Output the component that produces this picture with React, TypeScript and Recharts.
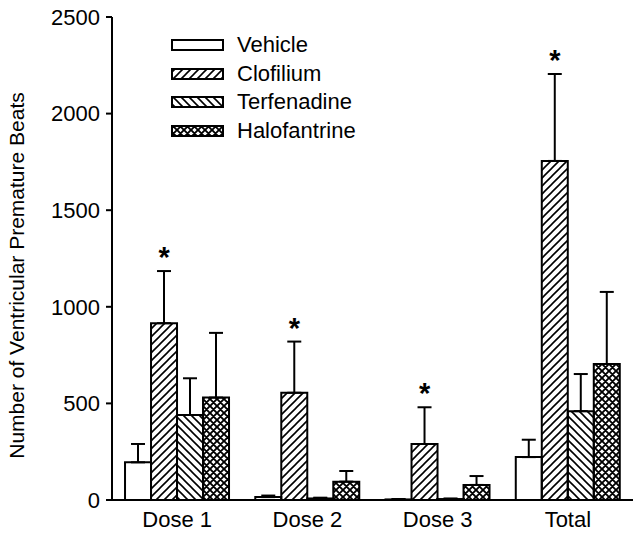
import { Bar, BarChart, ErrorBar, LabelList, XAxis, YAxis } from "recharts";

document.body.style.margin = "0";

const DOSES = ["Dose 1", "Dose 2", "Dose 3", "Total"];
const VEHICLE = [195, 15, 3, 222];
const VEHICLE_ERR = [95, 8, 2, 90];
const CLOFILIUM = [915, 555, 290, 1755];
const CLOFILIUM_ERR = [270, 265, 190, 450];
const TERFENADINE = [440, 8, 5, 460];
const TERFENADINE_ERR = [190, 4, 3, 192];
const HALOFANTRINE = [530, 95, 78, 704];
const HALOFANTRINE_ERR = [335, 55, 46, 373];
const Y_TICKS = [0, 500, 1000, 1500, 2000, 2500];
const Y_TITLE = "Number of Ventricular Premature Beats";

const FONT = "'Liberation Sans', Arial, sans-serif";

const data = DOSES.map((dose, i) => ({
  dose,
  vehicle: VEHICLE[i],
  vehicleErr: [0, VEHICLE_ERR[i]],
  clofilium: CLOFILIUM[i],
  clofiliumErr: [0, CLOFILIUM_ERR[i]],
  terfenadine: TERFENADINE[i],
  terfenadineErr: [0, TERFENADINE_ERR[i]],
  halofantrine: HALOFANTRINE[i],
  halofantrineErr: [0, HALOFANTRINE_ERR[i]],
}));

const SERIES = [
  { key: "vehicle", name: "Vehicle", fill: "#fff" },
  { key: "clofilium", name: "Clofilium", fill: "url(#hatchFwd)" },
  { key: "terfenadine", name: "Terfenadine", fill: "url(#hatchBack)" },
  { key: "halofantrine", name: "Halofantrine", fill: "url(#hatchCross)" },
];

function Patterns({ prefix = "" }: { prefix?: string }) {
  return (
    <defs>
      <pattern id={prefix + "hatchFwd"} patternUnits="userSpaceOnUse" width="8" height="8">
        <path d="M-2,2 L2,-2 M0,8 L8,0 M6,10 L10,6" stroke="#000" strokeWidth="1.6" />
      </pattern>
      <pattern id={prefix + "hatchBack"} patternUnits="userSpaceOnUse" width="8" height="8">
        <path d="M-2,6 L2,10 M0,0 L8,8 M6,-2 L10,2" stroke="#000" strokeWidth="1.6" />
      </pattern>
      <pattern id={prefix + "hatchCross"} patternUnits="userSpaceOnUse" width="7" height="7">
        <path
          d="M-2,2 L2,-2 M0,7 L7,0 M5,9 L9,5 M-2,5 L2,9 M0,0 L7,7 M5,-2 L9,2"
          stroke="#000"
          strokeWidth="1.9"
        />
      </pattern>
    </defs>
  );
}

// legend sits over the empty upper-left of the plot, like the original figure
function LegendBox() {
  return (
    <div
      style={{
        position: "absolute",
        top: 31,
        left: 170,
        fontFamily: FONT,
        fontSize: 22,
        color: "#000",
        lineHeight: 1,
      }}
    >
      {SERIES.map((s) => (
        <div key={s.key} style={{ display: "flex", alignItems: "center", height: 28.5 }}>
          <svg width={56} height={16} style={{ marginRight: 11 }}>
            <Patterns prefix="lg-" />
            <rect
              x={2}
              y={3}
              width={51}
              height={10}
              fill={s.fill.replace("url(#", "url(#lg-")}
              stroke="#000"
              strokeWidth={2}
            />
          </svg>
          <span>{s.name}</span>
        </div>
      ))}
    </div>
  );
}

function YTitle(props: any) {
  const vb = props.viewBox || {};
  const cx = 16;
  const cy = Number(vb.y) + Number(vb.height) / 2 + 17;
  return (
    <text
      x={cx}
      y={cy}
      transform={`rotate(-90, ${cx}, ${cy})`}
      textAnchor="middle"
      dominantBaseline="central"
      fontSize={21}
      fontFamily={FONT}
      fill="#000"
    >
      {Y_TITLE}
    </text>
  );
}

function Asterisk(props: any) {
  const { x, y, width, height, value, index } = props;
  const perUnit = Number(height) / Number(value);
  const capY = Number(y) - CLOFILIUM_ERR[index] * perUnit;
  return (
    <text
      x={Number(x) + Number(width) / 2}
      y={capY - 4}
      textAnchor="middle"
      fontSize={29}
      fontWeight="bold"
      fontFamily={FONT}
      fill="#000"
    >
      *
    </text>
  );
}

export default function App() {
  return (
    <div style={{ position: "relative", width: 640, height: 537, background: "#fff" }}>
      <BarChart
        width={640}
        height={537}
        data={data}
        margin={{ top: 17, right: 7, left: 0, bottom: 7 }}
        barCategoryGap="10%"
        barGap={0}
      >
        <Patterns />
        <XAxis
          dataKey="dose"
          height={30}
          tickLine={false}
          axisLine={{ stroke: "#000", strokeWidth: 2 }}
          tick={{ fill: "#000", fontSize: 22, fontFamily: FONT }}
          tickMargin={5}
        />
        <YAxis
          width={112}
          domain={[0, 2500]}
          ticks={Y_TICKS}
          interval={0}
          tickSize={6}
          tickLine={{ stroke: "#000", strokeWidth: 2 }}
          axisLine={{ stroke: "#000", strokeWidth: 2 }}
          tick={{ fill: "#000", fontSize: 22, fontFamily: FONT }}
          tickMargin={6}
          label={<YTitle />}
        />
        {SERIES.map((s) => (
          <Bar
            key={s.key}
            dataKey={s.key}
            name={s.name}
            fill={s.fill}
            stroke="#000"
            strokeWidth={2}
            isAnimationActive={false}
          >
            <ErrorBar
              dataKey={s.key + "Err"}
              width={7}
              stroke="#000"
              strokeWidth={2}
              direction="y"
            />
            {s.key === "clofilium" && <LabelList dataKey="clofilium" content={Asterisk} />}
          </Bar>
        ))}
      </BarChart>
      <LegendBox />
    </div>
  );
}
